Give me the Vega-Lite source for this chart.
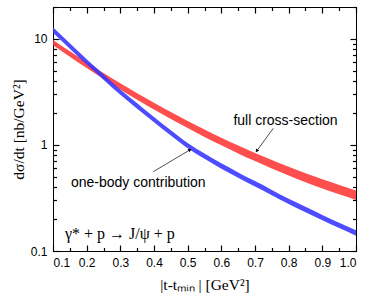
{
  "$schema": "https://vega.github.io/schema/vega-lite/v6.json",
  "width": 303,
  "height": 244,
  "autosize": "none",
  "padding": {"left": 53, "top": 7, "right": 18, "bottom": 51},
  "config": {
    "view": {"stroke": "black", "strokeWidth": 1},
    "axis": {
      "grid": false,
      "domainColor": "black",
      "labelColor": "black",
      "titleColor": "black",
      "labelFont": "Liberation Sans",
      "labelFontSize": 12,
      "titleFont": "Liberation Serif",
      "titleFontSize": 15.5,
      "titleFontWeight": "normal"
    }
  },
  "datasets": {
    "curves": [
      {"t": 0.1, "series": "full", "lo": 8.73, "hi": 9.79},
      {"t": 0.15, "series": "full", "lo": 6.79, "hi": 7.66},
      {"t": 0.2, "series": "full", "lo": 5.32, "hi": 6.03},
      {"t": 0.25, "series": "full", "lo": 4.195, "hi": 4.78},
      {"t": 0.3, "series": "full", "lo": 3.34, "hi": 3.82},
      {"t": 0.35, "series": "full", "lo": 2.676, "hi": 3.08},
      {"t": 0.4, "series": "full", "lo": 2.16, "hi": 2.5},
      {"t": 0.45, "series": "full", "lo": 1.759, "hi": 2.046},
      {"t": 0.5, "series": "full", "lo": 1.442, "hi": 1.686},
      {"t": 0.55, "series": "full", "lo": 1.191, "hi": 1.4},
      {"t": 0.6, "series": "full", "lo": 0.993, "hi": 1.172},
      {"t": 0.65, "series": "full", "lo": 0.833, "hi": 0.989},
      {"t": 0.7, "series": "full", "lo": 0.704, "hi": 0.84},
      {"t": 0.75, "series": "full", "lo": 0.6006, "hi": 0.72},
      {"t": 0.8, "series": "full", "lo": 0.516, "hi": 0.622},
      {"t": 0.85, "series": "full", "lo": 0.446, "hi": 0.54},
      {"t": 0.9, "series": "full", "lo": 0.389, "hi": 0.474},
      {"t": 0.95, "series": "full", "lo": 0.342, "hi": 0.419},
      {"t": 1.0, "series": "full", "lo": 0.303, "hi": 0.372},
      {"t": 0.1, "series": "one", "lo": 11.45, "hi": 12.85},
      {"t": 0.15, "series": "one", "lo": 8.1, "hi": 9.09},
      {"t": 0.2, "series": "one", "lo": 5.74, "hi": 6.44},
      {"t": 0.25, "series": "one", "lo": 4.13, "hi": 4.64},
      {"t": 0.3, "series": "one", "lo": 2.97, "hi": 3.34},
      {"t": 0.35, "series": "one", "lo": 2.2, "hi": 2.48},
      {"t": 0.4, "series": "one", "lo": 1.636, "hi": 1.836},
      {"t": 0.45, "series": "one", "lo": 1.225, "hi": 1.375},
      {"t": 0.5, "series": "one", "lo": 0.929, "hi": 1.042},
      {"t": 0.55, "series": "one", "lo": 0.741, "hi": 0.831},
      {"t": 0.6, "series": "one", "lo": 0.598, "hi": 0.671},
      {"t": 0.65, "series": "one", "lo": 0.491, "hi": 0.551},
      {"t": 0.7, "series": "one", "lo": 0.406, "hi": 0.456},
      {"t": 0.75, "series": "one", "lo": 0.336, "hi": 0.377},
      {"t": 0.8, "series": "one", "lo": 0.278, "hi": 0.311},
      {"t": 0.85, "series": "one", "lo": 0.232, "hi": 0.261},
      {"t": 0.9, "series": "one", "lo": 0.195, "hi": 0.219},
      {"t": 0.95, "series": "one", "lo": 0.1645, "hi": 0.1848},
      {"t": 1.0, "series": "one", "lo": 0.1395, "hi": 0.1565}
    ],
    "labels": [
      {"t": 0.7906, "v": 1.694, "label": "full cross-section"},
      {"t": 0.3534, "v": 0.4348, "label": "one-body contribution"}
    ],
    "reaction": [
      {"t": 0.1356, "v": 0.1446, "label": "γ* + p → J/ψ + p"}
    ],
    "arrows": [
      {"t": 0.7543, "v": 1.436, "t2": 0.705, "v2": 0.877, "which": "full"},
      {"t": 0.3979, "v": 0.5596, "t2": 0.5069, "v2": 0.9, "which": "one"}
    ]
  },
  "layer": [
    {
      "data": {"name": "curves"},
      "transform": [{"filter": "datum.series == 'full'"}],
      "mark": {"type": "area", "color": "#ff3b3b", "opacity": 0.9, "interpolate": "monotone"},
      "encoding": {
        "x": {
          "field": "t", "type": "quantitative",
          "scale": {"domain": [0.1, 1.0], "nice": false, "zero": false},
          "axis": {
            "orient": "bottom",
            "values": [0.1,0.2,0.3,0.4,0.5,0.6,0.7,0.8,0.9,1.0],
            "format": ".1f",
            "tickSize": -6,
            "tickWidth": 1.2,
            "tickColor": "#000000",
            "labelPadding": 12,
            "title": "|t-tₘᵢₙ | [GeV²]",
            "titlePadding": 9
          }
        },
        "y": {
          "field": "lo", "type": "quantitative",
          "scale": {"type": "log", "domain": [0.1, 20], "nice": false},
          "axis": {
            "orient": "left",
            "values": [0.1, 1, 10],
            "labelExpr": "datum.value + ''",
            "tickSize": -6,
            "tickWidth": 1.2,
            "tickColor": "#000000",
            "labelPadding": 12,
            "title": "dσ/dt [nb/GeV²]",
            "titlePadding": 4
          }
        },
        "y2": {"field": "hi"}
      }
    },
    {
      "data": {"name": "curves"},
      "transform": [{"filter": "datum.series == 'one'"}],
      "mark": {"type": "area", "color": "#3434ff", "opacity": 0.88, "interpolate": "monotone"},
      "encoding": {
        "x": {
          "field": "t", "type": "quantitative",
          "scale": {"domain": [0.1, 1.0], "nice": false, "zero": false},
          "axis": {
            "orient": "top",
            "values": [0.1,0.2,0.3,0.4,0.5,0.6,0.7,0.8,0.9,1.0],
            "labels": false,
            "tickSize": -6,
            "tickWidth": 1.2,
            "tickColor": "#000000",
            "title": null
          }
        },
        "y": {
          "field": "lo", "type": "quantitative",
          "scale": {"type": "log", "domain": [0.1, 20], "nice": false},
          "axis": {
            "orient": "right",
            "values": [0.1, 1, 10],
            "labels": false,
            "tickSize": -6,
            "tickWidth": 1.2,
            "tickColor": "#000000",
            "title": null
          }
        },
        "y2": {"field": "hi"}
      }
    },
    {
      "data": {"name": "arrows"},
      "mark": {"type": "rule", "color": "#222222", "strokeWidth": 0.8},
      "encoding": {
        "x": {
          "field": "t", "type": "quantitative",
          "axis": {
            "orient": "bottom",
            "values": [0.15,0.25,0.35,0.45,0.55,0.65,0.75,0.85,0.95],
            "labels": false,
            "tickSize": -3.5,
            "tickWidth": 1.2,
            "tickColor": "#000000",
            "title": null
          }
        },
        "y": {
          "field": "v", "type": "quantitative",
          "axis": {
            "orient": "left",
            "values": [0.2,0.3,0.4,0.5,0.6,0.7,0.8,0.9,2,3,4,5,6,7,8,9,20],
            "labels": false,
            "tickSize": -3.5,
            "tickWidth": 1.2,
            "tickColor": "#000000",
            "title": null
          }
        },
        "x2": {"field": "t2"},
        "y2": {"field": "v2"}
      }
    },
    {
      "data": {"name": "arrows"},
      "transform": [{"filter": "datum.which == 'full'"}],
      "mark": {"type": "point", "shape": "triangle-up", "filled": true, "color": "black", "size": 14, "angle": 214, "opacity": 1},
      "encoding": {
        "x": {
          "field": "t2", "type": "quantitative",
          "axis": {
            "orient": "top",
            "values": [0.15,0.25,0.35,0.45,0.55,0.65,0.75,0.85,0.95],
            "labels": false,
            "tickSize": -3.5,
            "tickWidth": 1.2,
            "tickColor": "#000000",
            "title": null
          }
        },
        "y": {
          "field": "v2", "type": "quantitative",
          "axis": {
            "orient": "right",
            "values": [0.2,0.3,0.4,0.5,0.6,0.7,0.8,0.9,2,3,4,5,6,7,8,9,20],
            "labels": false,
            "tickSize": -3.5,
            "tickWidth": 1.2,
            "tickColor": "#000000",
            "title": null
          }
        }
      }
    },
    {
      "data": {"name": "arrows"},
      "transform": [{"filter": "datum.which == 'one'"}],
      "mark": {"type": "point", "shape": "triangle-up", "filled": true, "color": "black", "size": 14, "angle": 59, "opacity": 1},
      "encoding": {
        "x": {"field": "t2", "type": "quantitative", "axis": null},
        "y": {"field": "v2", "type": "quantitative", "axis": null}
      }
    },
    {
      "data": {"name": "labels"},
      "mark": {"type": "text", "font": "Liberation Sans", "fontSize": 14, "color": "black", "align": "center", "baseline": "middle"},
      "encoding": {
        "x": {"field": "t", "type": "quantitative", "axis": null},
        "y": {"field": "v", "type": "quantitative", "axis": null},
        "text": {"field": "label"}
      }
    },
    {
      "data": {"name": "reaction"},
      "mark": {"type": "text", "font": "Liberation Serif", "fontSize": 16, "color": "black", "align": "left", "baseline": "middle"},
      "encoding": {
        "x": {"field": "t", "type": "quantitative", "axis": null},
        "y": {"field": "v", "type": "quantitative", "axis": null},
        "text": {"field": "label"}
      }
    }
  ],
  "resolve": {"axis": {"x": "independent", "y": "independent"}}
}
